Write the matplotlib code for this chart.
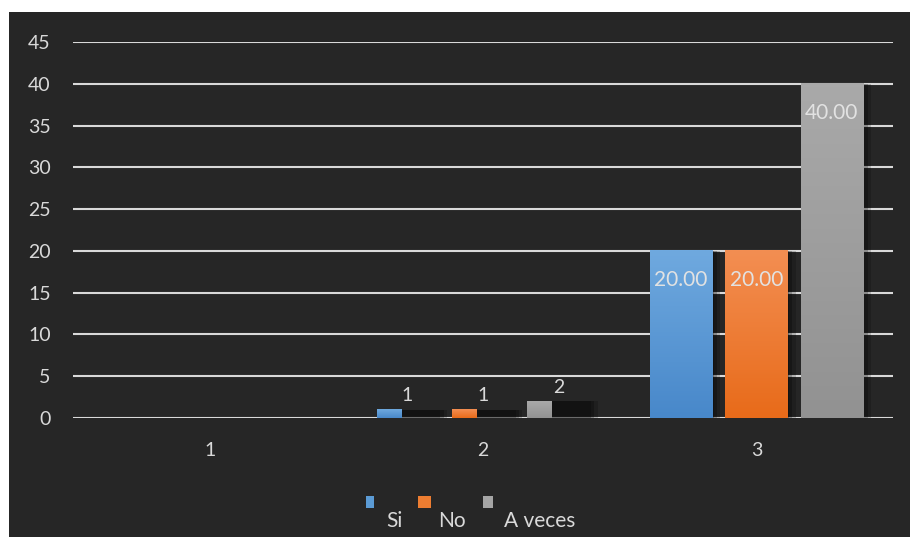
import numpy as np
import matplotlib
matplotlib.use("Agg")
import matplotlib.pyplot as plt
from matplotlib.patches import Rectangle
from matplotlib.colors import LinearSegmentedColormap

# survey answers per question
categories = ["1", "2", "3"]
series_names = ["Si", "No", "A veces"]
si = [0, 1, 20]
no = [0, 1, 20]
a_veces = [0, 2, 40]
yticks = [0, 5, 10, 15, 20, 25, 30, 35, 40, 45]

# colours (top, bottom of the gradient)
colors = [("#6FA9DF", "#4888CA"), ("#F38E52", "#E86B1A"), ("#A9A9A9", "#929292")]
legend_colors = ["#5B9BD5", "#ED7D31", "#A5A5A5"]
bg = "#262626"
fg = "#D9D9D9"
font = "Lato"

fig = plt.figure(figsize=(9.10, 5.37), dpi=100, facecolor="white")
fig.patches.append(Rectangle((9 / 910, 0), 1, (537 - 12) / 537,
                             transform=fig.transFigure, facecolor=bg,
                             edgecolor="none", zorder=-5))

ax = fig.add_axes([73 / 910, (537 - 418) / 537, 820 / 910, 376 / 537])
ax.set_facecolor("none")
for s in ax.spines.values():
    s.set_visible(False)

slot = 0.227      # width reserved for one bar
step = 0.276      # distance between bar centres
fill_frac = [1.0, 0.40, 1.0]  # drawn part of each bar slot per category
x = np.arange(1, len(categories) + 1)

for k, vals in enumerate([si, no, a_veces]):
    cmap = LinearSegmentedColormap.from_list("g", [colors[k][1], colors[k][0]])
    grad = np.linspace(0, 1, 64).reshape(-1, 1)
    for i, v in enumerate(vals):
        if v == 0:
            continue
        left = x[i] + (k - 1) * step - slot / 2
        w = slot * fill_frac[i]
        # soft shadow behind the bar
        for j, a in enumerate([0.22, 0.22, 0.18]):
            ax.add_patch(Rectangle((left + 0.006 * (j + 1), 0), slot + 0.006 * j, v,
                                   facecolor="black", alpha=a, edgecolor="none",
                                   zorder=1))
        ax.imshow(grad, extent=[left, left + w, 0, v], origin="lower",
                  aspect="auto", cmap=cmap, zorder=2, interpolation="bilinear")
        cx = left + slot / 2
        if fill_frac[i] < 1:
            ax.annotate(f"{v:.0f}", (cx, v), xytext=(0, 10), textcoords="offset points",
                        ha="center", va="center", color=fg, fontsize=14,
                        family=font, zorder=3)
        else:
            ax.annotate(f"{v:.2f}", (cx, v), xytext=(0, -21), textcoords="offset points",
                        ha="center", va="center", color="#E2E2E2", fontsize=15,
                        family=font, zorder=3)

ax.set_xlim(0.5, 3.5)
ax.set_ylim(0, 45)
ax.set_yticks(yticks)
ax.set_xticks(x)
ax.set_xticklabels(categories)
ax.yaxis.grid(True, color=fg, linewidth=1.5, zorder=0.5)
ax.set_axisbelow(True)
ax.tick_params(axis="both", length=0, colors=fg, labelsize=14)
ax.tick_params(axis="y", pad=16)
ax.tick_params(axis="x", pad=17)
for lab in ax.get_xticklabels() + ax.get_yticklabels():
    lab.set_family(font)

# legend: swatch above-left, name below-right
swatches = [(366, 8), (418, 13), (483, 10)]
text_x = [394, 452, 540]
for (sx, sw), c, name, tx in zip(swatches, legend_colors, series_names, text_x):
    fig.patches.append(Rectangle((sx / 910, (537 - 508) / 537), sw / 910, 12 / 537,
                                 transform=fig.transFigure, facecolor=c,
                                 edgecolor="none", zorder=2))
    fig.text(tx / 910, (537 - 521) / 537, name, ha="center", va="center",
             color=fg, fontsize=15, family=font)

fig.savefig("out.png", dpi=100, facecolor="white")
